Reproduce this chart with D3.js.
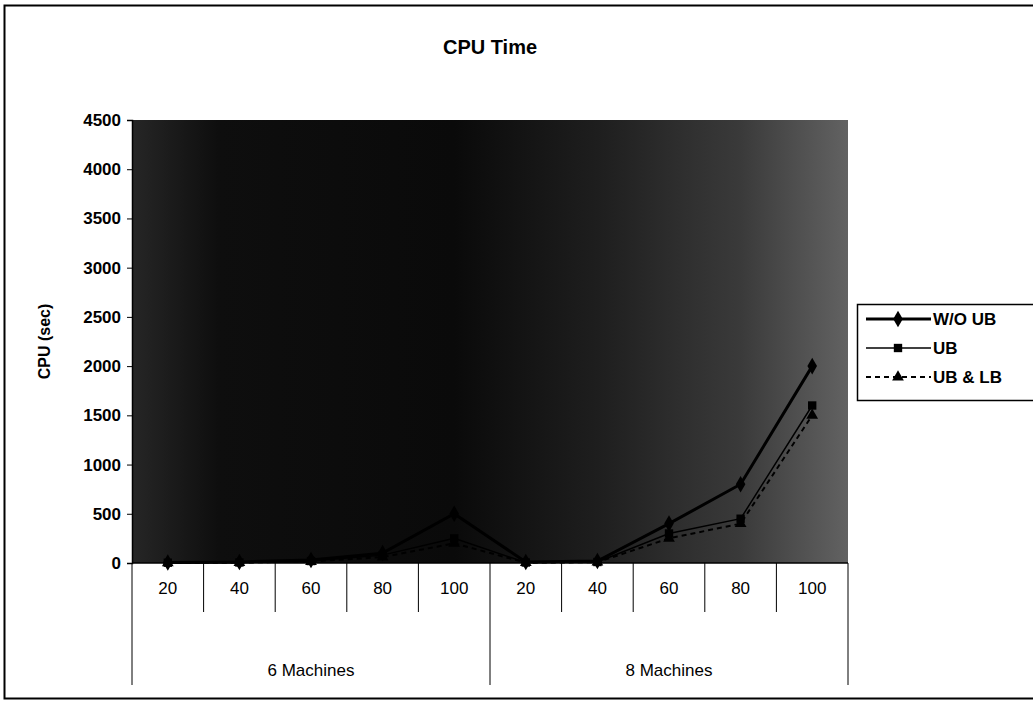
<!DOCTYPE html>
<html>
<head>
<meta charset="utf-8">
<script src="https://cdn.jsdelivr.net/npm/d3@7"></script>
<style>
  body { margin: 0; background: #fff; font-family: 'Liberation Sans', Arial, sans-serif; }
</style>
</head>
<body>
<script>
// data
const groups = ['6 Machines', '8 Machines'];
const jobs = ['20', '40', '60', '80', '100'];
const woUB = [5, 10, 30, 100, 500, 10, 20, 400, 800, 2000];
const ub = [3, 5, 20, 80, 250, 5, 10, 300, 450, 1600];
const ubLB = [2, 4, 15, 60, 200, 3, 8, 250, 400, 1500];
const yTicks = [0, 500, 1000, 1500, 2000, 2500, 3000, 3500, 4000, 4500];

const W = 1033, H = 704;
const plot = { left: 132, right: 848, top: 120, bottom: 563 };
const font = "'Liberation Sans', Arial, sans-serif";

const cats = [];
groups.forEach((g, gi) => jobs.forEach(j => cats.push(gi + '-' + j)));

const x = d3.scaleBand()
  .domain(cats)
  .range([plot.left, plot.right]);

const y = d3.scaleLinear()
  .domain([0, 4500])
  .range([plot.bottom, plot.top]);

const svg = d3.select('body').append('svg')
  .attr('width', W)
  .attr('height', H);

// dark halftone-ish plot background
const grad = svg.append('defs').append('linearGradient')
  .attr('id', 'bg')
  .attr('x1', '0%').attr('x2', '100%')
  .attr('y1', '0%').attr('y2', '0%');
[['0%', '#262626'], ['12%', '#0e0e0e'], ['45%', '#0a0a0a'], ['65%', '#1e1e1e'], ['85%', '#3a3a3a'], ['100%', '#626262']]
  .forEach(([o, c]) => grad.append('stop').attr('offset', o).attr('stop-color', c));

// outer chart border
svg.append('rect')
  .attr('x', 4.5).attr('y', 5.5)
  .attr('width', W + 10).attr('height', 693)
  .attr('fill', 'none')
  .attr('stroke', '#000')
  .attr('stroke-width', 2);

svg.append('text')
  .attr('x', 490).attr('y', 54)
  .attr('text-anchor', 'middle')
  .attr('font-size', 20).attr('font-weight', 'bold')
  .text('CPU Time');

svg.append('rect')
  .attr('x', plot.left).attr('y', plot.top)
  .attr('width', plot.right - plot.left)
  .attr('height', plot.bottom - plot.top)
  .attr('fill', 'url(#bg)');

// y axis
const yAxis = svg.append('g')
  .attr('transform', `translate(${plot.left},0)`)
  .call(d3.axisLeft(y).tickValues(yTicks).tickFormat(d3.format('d')).tickSize(5).tickPadding(6));
yAxis.select('.domain').attr('stroke', '#000').attr('stroke-width', 1.5);
yAxis.selectAll('text')
  .attr('font-size', 17).attr('font-weight', 'bold').attr('font-family', font)
  .attr('fill', '#000');

svg.append('text')
  .attr('transform', `translate(50,${(plot.top + plot.bottom) / 2}) rotate(-90)`)
  .attr('text-anchor', 'middle')
  .attr('font-size', 16).attr('font-weight', 'bold')
  .text('CPU (sec)');

// x axis, two-level category labels
const xg = svg.append('g');
xg.append('line')
  .attr('x1', plot.left).attr('x2', plot.right)
  .attr('y1', plot.bottom).attr('y2', plot.bottom)
  .attr('stroke', '#000').attr('stroke-width', 1.5);

cats.forEach((c, i) => {
  const edge = x(c);
  const isGroupEdge = i % jobs.length === 0;
  xg.append('line')
    .attr('x1', edge).attr('x2', edge)
    .attr('y1', plot.bottom).attr('y2', isGroupEdge ? 685 : 612)
    .attr('stroke', '#000');
  xg.append('text')
    .attr('x', edge + x.bandwidth() / 2).attr('y', 594)
    .attr('text-anchor', 'middle')
    .attr('font-size', 17)
    .text(c.split('-')[1]);
});
xg.append('line')
  .attr('x1', plot.right).attr('x2', plot.right)
  .attr('y1', plot.bottom).attr('y2', 685)
  .attr('stroke', '#000');

groups.forEach((g, gi) => {
  const first = x(cats[gi * jobs.length]);
  const last = x(cats[gi * jobs.length + jobs.length - 1]) + x.bandwidth();
  xg.append('text')
    .attr('x', (first + last) / 2).attr('y', 676)
    .attr('text-anchor', 'middle')
    .attr('font-size', 17)
    .text(g);
});

// series
const series = [
  { name: 'W/O UB', values: woUB, width: 3, dash: null, marker: d3.symbolDiamond, size: 80 },
  { name: 'UB', values: ub, width: 1.5, dash: null, marker: d3.symbolSquare, size: 70 },
  { name: 'UB & LB', values: ubLB, width: 2, dash: '5,4', marker: d3.symbolTriangle, size: 60 }
];

const line = d3.line()
  .x((d, i) => x(cats[i]) + x.bandwidth() / 2)
  .y(d => y(d));

series.forEach(s => {
  svg.append('path')
    .datum(s.values)
    .attr('d', line)
    .attr('fill', 'none')
    .attr('stroke', '#000')
    .attr('stroke-width', s.width)
    .attr('stroke-dasharray', s.dash);
  svg.selectAll(null)
    .data(s.values)
    .enter().append('path')
    .attr('transform', (d, i) => `translate(${x(cats[i]) + x.bandwidth() / 2},${y(d)})`)
    .attr('d', d3.symbol().type(s.marker).size(s.size))
    .attr('fill', '#000');
});

// legend
const lg = svg.append('g').attr('transform', 'translate(857,304)');
lg.append('rect')
  .attr('x', 0.5).attr('y', 0.5)
  .attr('width', 200).attr('height', 96)
  .attr('fill', '#fff').attr('stroke', '#000').attr('stroke-width', 1.5);

series.forEach((s, i) => {
  const cy = 15 + i * 29;
  lg.append('line')
    .attr('x1', 9).attr('x2', 74)
    .attr('y1', cy).attr('y2', cy)
    .attr('stroke', '#000')
    .attr('stroke-width', s.width)
    .attr('stroke-dasharray', s.dash);
  lg.append('path')
    .attr('transform', `translate(41,${cy})`)
    .attr('d', d3.symbol().type(s.marker).size(s.size))
    .attr('fill', '#000');
  lg.append('text')
    .attr('x', 76).attr('y', cy + 6)
    .attr('font-size', 17).attr('font-weight', 'bold')
    .text(s.name);
});
</script>
</body>
</html>
